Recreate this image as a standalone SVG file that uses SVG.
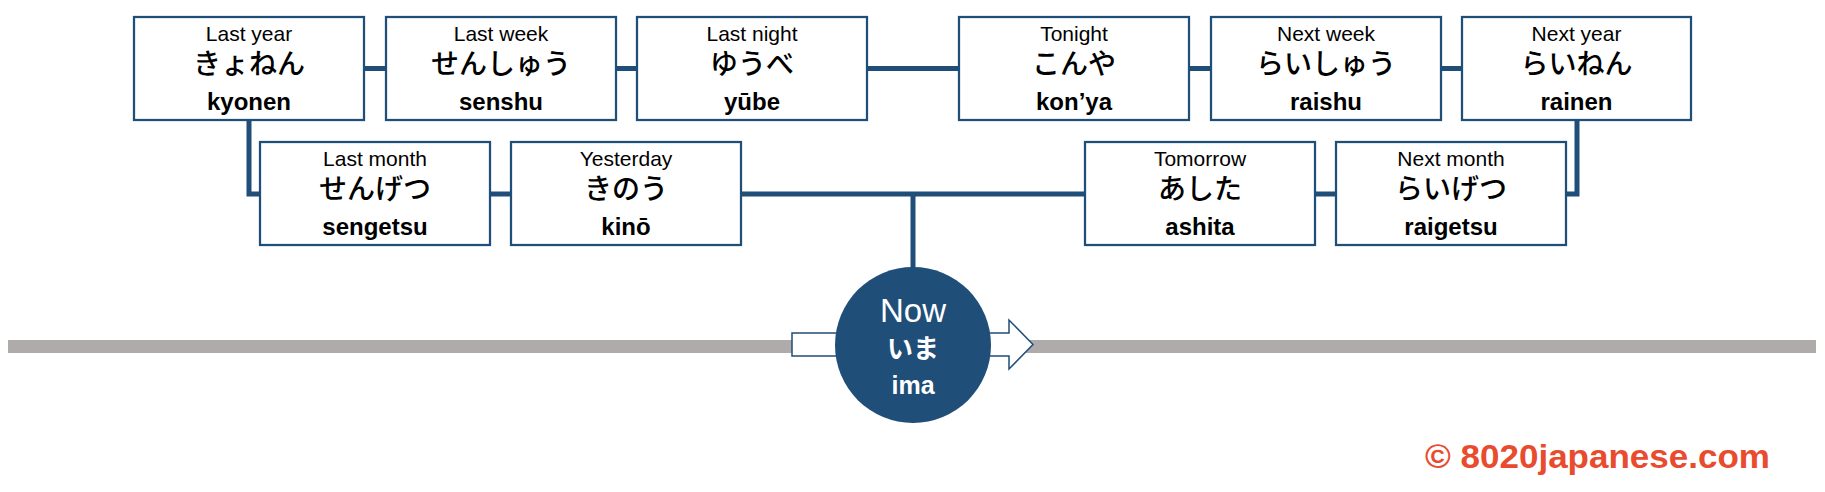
<svg xmlns="http://www.w3.org/2000/svg" width="1825" height="492" viewBox="0 0 1825 492">
<style>
.box{fill:#fff;stroke:#1F4E79;stroke-width:2.25}
.en{font-family:"Liberation Sans","Noto Sans CJK JP",sans-serif;font-size:21px;fill:#000;text-anchor:middle}
.jp{font-family:"Noto Sans CJK JP",sans-serif;font-size:28px;font-weight:500;fill:#000;text-anchor:middle}
.ro{font-family:"Liberation Sans","Noto Sans CJK JP",sans-serif;font-size:24px;font-weight:bold;fill:#000;text-anchor:middle}
.conn{fill:none;stroke:#1F4E79;stroke-width:5;stroke-linejoin:miter}
</style>
<rect id="timeline" x="8" y="340" width="1808" height="13" fill="#AFABAB"/>
<path id="arrow" d="M792,333 H1009 V320 L1033,344.5 L1009,369 V356 H792 Z" fill="#fff" stroke="#1F4E79" stroke-width="1.5"/>
<g id="connectors">
<path class="conn" d="M364,68.5 H386"/>
<path class="conn" d="M616,68.5 H637"/>
<path class="conn" d="M867,68.5 H959"/>
<path class="conn" d="M1189,68.5 H1211"/>
<path class="conn" d="M1441,68.5 H1462"/>
<path class="conn" d="M249,120 V194 H260"/>
<path class="conn" d="M490,194 H511"/>
<path class="conn" d="M741,194 H1085"/>
<path class="conn" d="M913,194 V268"/>
<path class="conn" d="M1315,194 H1336"/>
<path class="conn" d="M1577,120 V194 H1566"/>
</g>
<g id="now">
<circle cx="913" cy="345" r="78" fill="#1F4E79"/>
<text x="913" y="322" font-family="Liberation Sans,sans-serif" font-size="33" fill="#fff" text-anchor="middle">Now</text>
<text x="913" y="358" font-family="Noto Sans CJK JP,sans-serif" font-size="26" font-weight="bold" fill="#fff" text-anchor="middle">いま</text>
<text x="913" y="394" font-family="Liberation Sans,sans-serif" font-size="25" font-weight="bold" fill="#fff" text-anchor="middle">ima</text>
</g>
<g id="last-year"><rect class="box" x="134" y="17" width="230" height="103"/><text class="en" x="249" y="41">Last year</text><text class="jp" x="249" y="74">きょねん</text><text class="ro" x="249" y="110">kyonen</text></g>
<g id="last-week"><rect class="box" x="386" y="17" width="230" height="103"/><text class="en" x="501" y="41">Last week</text><text class="jp" x="501" y="74">せんしゅう</text><text class="ro" x="501" y="110">senshu</text></g>
<g id="last-night"><rect class="box" x="637" y="17" width="230" height="103"/><text class="en" x="752" y="41">Last night</text><text class="jp" x="752" y="74">ゆうべ</text><text class="ro" x="752" y="110">yūbe</text></g>
<g id="tonight"><rect class="box" x="959" y="17" width="230" height="103"/><text class="en" x="1074" y="41">Tonight</text><text class="jp" x="1074" y="74">こんや</text><text class="ro" x="1074" y="110">kon’ya</text></g>
<g id="next-week"><rect class="box" x="1211" y="17" width="230" height="103"/><text class="en" x="1326" y="41">Next week</text><text class="jp" x="1326" y="74">らいしゅう</text><text class="ro" x="1326" y="110">raishu</text></g>
<g id="next-year"><rect class="box" x="1462" y="17" width="229" height="103"/><text class="en" x="1576.5" y="41">Next year</text><text class="jp" x="1576.5" y="74">らいねん</text><text class="ro" x="1576.5" y="110">rainen</text></g>
<g id="last-month"><rect class="box" x="260" y="142" width="230" height="103"/><text class="en" x="375" y="166">Last month</text><text class="jp" x="375" y="199">せんげつ</text><text class="ro" x="375" y="235">sengetsu</text></g>
<g id="yesterday"><rect class="box" x="511" y="142" width="230" height="103"/><text class="en" x="626" y="166">Yesterday</text><text class="jp" x="626" y="199">きのう</text><text class="ro" x="626" y="235">kinō</text></g>
<g id="tomorrow"><rect class="box" x="1085" y="142" width="230" height="103"/><text class="en" x="1200" y="166">Tomorrow</text><text class="jp" x="1200" y="199">あした</text><text class="ro" x="1200" y="235">ashita</text></g>
<g id="next-month"><rect class="box" x="1336" y="142" width="230" height="103"/><text class="en" x="1451" y="166">Next month</text><text class="jp" x="1451" y="199">らいげつ</text><text class="ro" x="1451" y="235">raigetsu</text></g>
<text id="copyright" x="1425" y="468" font-family="Liberation Sans,sans-serif" font-size="33" font-weight="bold" fill="#E94B2E" textLength="345" lengthAdjust="spacingAndGlyphs">© 8020japanese.com</text>
</svg>
